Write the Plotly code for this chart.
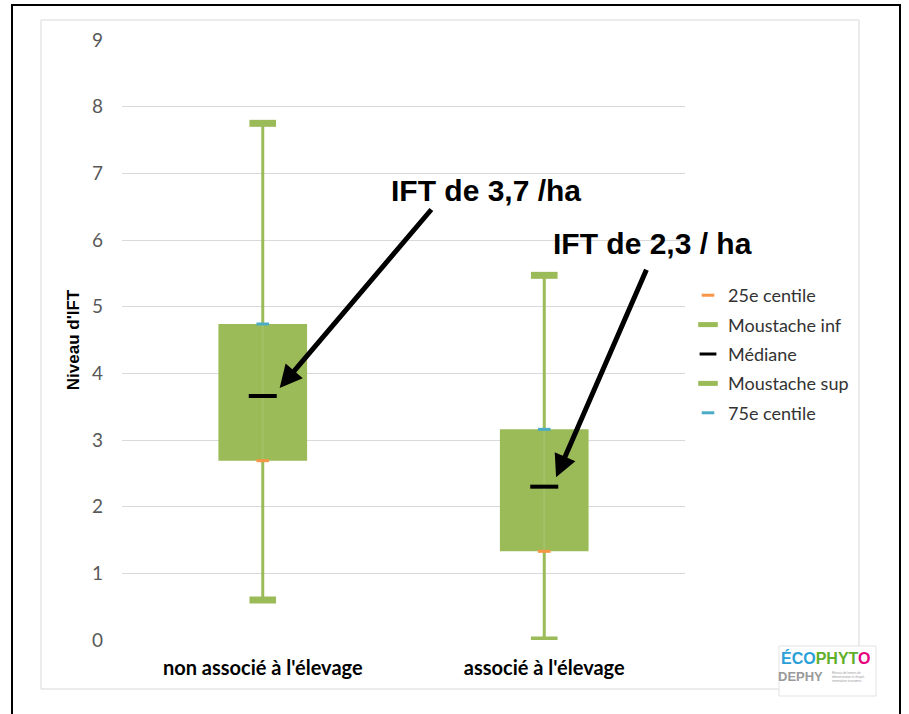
import plotly.graph_objects as go

categories = ["non associé à l'élevage", "associé à l'élevage"]
whisker_min = [0.6, 0.0]
q1 = [2.69, 1.33]
median = [3.66, 2.3]
q3 = [4.74, 3.16]
whisker_max = [7.75, 5.47]
y_ticks = [0, 1, 2, 3, 4, 5, 6, 7, 8, 9]

GREEN = "#9BBB59"
ORANGE = "#F79646"
BLUE = "#4BACC6"
FONT = "Lato"


def px(x):
    return (x - 122) / 563


def py(y):
    return (640 - y) / 600


fig = go.Figure()

# box body (stacked column between 25e and 75e centile)
fig.add_trace(go.Bar(
    x=categories, y=[b - a for a, b in zip(q1, q3)], base=q1,
    marker=dict(color=GREEN, line=dict(width=0)), width=0.315,
    showlegend=False, hoverinfo="skip"))

# whisker lines
wx, wy = [], []
for c, lo, a, b, hi in zip(categories, whisker_min, q1, q3, whisker_max):
    wx += [c, c, None, c, c, None]
    wy += [lo, a, None, b, hi, None]
fig.add_trace(go.Scatter(x=wx, y=wy, mode="lines", line=dict(color=GREEN, width=3),
                         showlegend=False, hoverinfo="skip"))
# faint line through the box
bx, by = [], []
for c, a, b in zip(categories, q1, q3):
    bx += [c, c, None]
    by += [a, b, None]
fig.add_trace(go.Scatter(x=bx, y=by, mode="lines", line=dict(color="#A9C56E", width=2),
                         opacity=0.6, showlegend=False, hoverinfo="skip"))

# whisker caps
for vals in (whisker_min, whisker_max):
    fig.add_trace(go.Scatter(x=categories, y=vals, mode="markers",
                             marker=dict(symbol="line-ew", size=19, line=dict(color=GREEN, width=7)),
                             showlegend=False, hoverinfo="skip"))

# centile marks
fig.add_trace(go.Scatter(x=categories, y=q1, mode="markers",
                         marker=dict(symbol="line-ew", size=9, line=dict(color=ORANGE, width=3)),
                         showlegend=False, hoverinfo="skip"))
fig.add_trace(go.Scatter(x=categories, y=q3, mode="markers",
                         marker=dict(symbol="line-ew", size=9, line=dict(color=BLUE, width=3)),
                         showlegend=False, hoverinfo="skip"))
# median
fig.add_trace(go.Scatter(x=categories, y=median, mode="markers",
                         marker=dict(symbol="line-ew", size=20, line=dict(color="black", width=4)),
                         showlegend=False, hoverinfo="skip"))

# legend-only entries
legend_items = [("25e centile", ORANGE, 3, 9), ("Moustache inf", GREEN, 6, 14),
                ("Médiane", "black", 3, 12), ("Moustache sup", GREEN, 6, 14),
                ("75e centile", BLUE, 3, 9)]
for name, col, w, s in legend_items:
    fig.add_trace(go.Scatter(x=[None], y=[None], mode="markers", name=name, legendgroup=name,
                             marker=dict(symbol="line-ew", size=s, line=dict(color=col, width=w))))

# arrows
fig.add_annotation(x=0.06, y=3.78, xref="x", yref="y", ax=153, ay=-180, text="",
                   showarrow=True, arrowhead=2, arrowsize=0.9, arrowwidth=5, arrowcolor="black")
fig.add_annotation(x=1.042, y=2.44, xref="x", yref="y", ax=91, ay=-209, text="",
                   showarrow=True, arrowhead=2, arrowsize=0.9, arrowwidth=5, arrowcolor="black")


def note(x, y, text, font, align="center"):
    fig.add_annotation(x=px(x), y=py(y), xref="paper", yref="paper", text=text,
                       showarrow=False, xanchor="center", yanchor="middle",
                       align=align, font=font)


note(486, 190, "<b>IFT de 3,7 /ha</b>", dict(family="Liberation Sans", size=30, color="black"))
note(652, 243, "<b>IFT de 2,3 / ha</b>", dict(family="Liberation Sans", size=30, color="black"))

# frames
fig.add_shape(type="rect", xref="paper", yref="paper",
              x0=px(12), x1=px(900), y0=py(730), y1=py(5),
              line=dict(color="black", width=2), layer="below")
fig.add_shape(type="rect", xref="paper", yref="paper",
              x0=px(41), x1=px(859), y0=py(689), y1=py(20),
              line=dict(color="#D9D9D9", width=1), layer="below")

# logo approximation
fig.add_shape(type="rect", xref="paper", yref="paper",
              x0=px(779), x1=px(876), y0=py(696), y1=py(646),
              line=dict(color="#E3E3E3", width=1), fillcolor="white", layer="above")
note(826, 658,
     "<b><span style='color:#2A9FD8'>ÉCO</span><span style='color:#5FAF2C'>PHYT</span><span style='color:#E6007E'>O</span></b>",
     dict(family="Liberation Sans Narrow, Liberation Sans", size=16))
note(800, 676, "<b>DEPHY</b>",
     dict(family="Liberation Sans Narrow, Liberation Sans", size=13, color="#9A9A9A"))
note(848, 677, "Réseau de fermes de<br>démonstration et d'expé-<br>rimentation économes",
     dict(family="Liberation Sans", size=3, color="#9A9A9A"), align="left")

fig.update_layout(
    width=909, height=714,
    margin=dict(l=122, r=224, t=40, b=74),
    paper_bgcolor="white", plot_bgcolor="white",
    font=dict(family=FONT, color="#595959"),
    bargap=0.685,
    xaxis=dict(type="category", showgrid=False, showline=False, ticks="",
               tickfont=dict(family=FONT, size=20, color="black", weight="bold"),
               ticklabelstandoff=14),
    yaxis=dict(range=[0, 9], tickvals=y_ticks, showgrid=True, gridcolor="#D9D9D9", gridwidth=1,
               zeroline=False, showline=False, ticks="", ticklabelstandoff=18,
               tickfont=dict(family=FONT, size=19, color="#595959"),
               title=dict(text="<b>Niveau d'IFT</b>",
                          font=dict(family="Liberation Sans Narrow, Liberation Sans", size=17, color="black"),
                          standoff=8)),
    legend=dict(x=px(688), y=py(277), xanchor="left", yanchor="top",
                font=dict(family=FONT, size=18, color="#333333"),
                bgcolor="rgba(0,0,0,0)", itemsizing="trace",
                traceorder="grouped", tracegroupgap=3),
    showlegend=True,
)

fig.write_html("out.html", config={"displayModeBar": False},
               post_script="document.body.style.margin='0';")
